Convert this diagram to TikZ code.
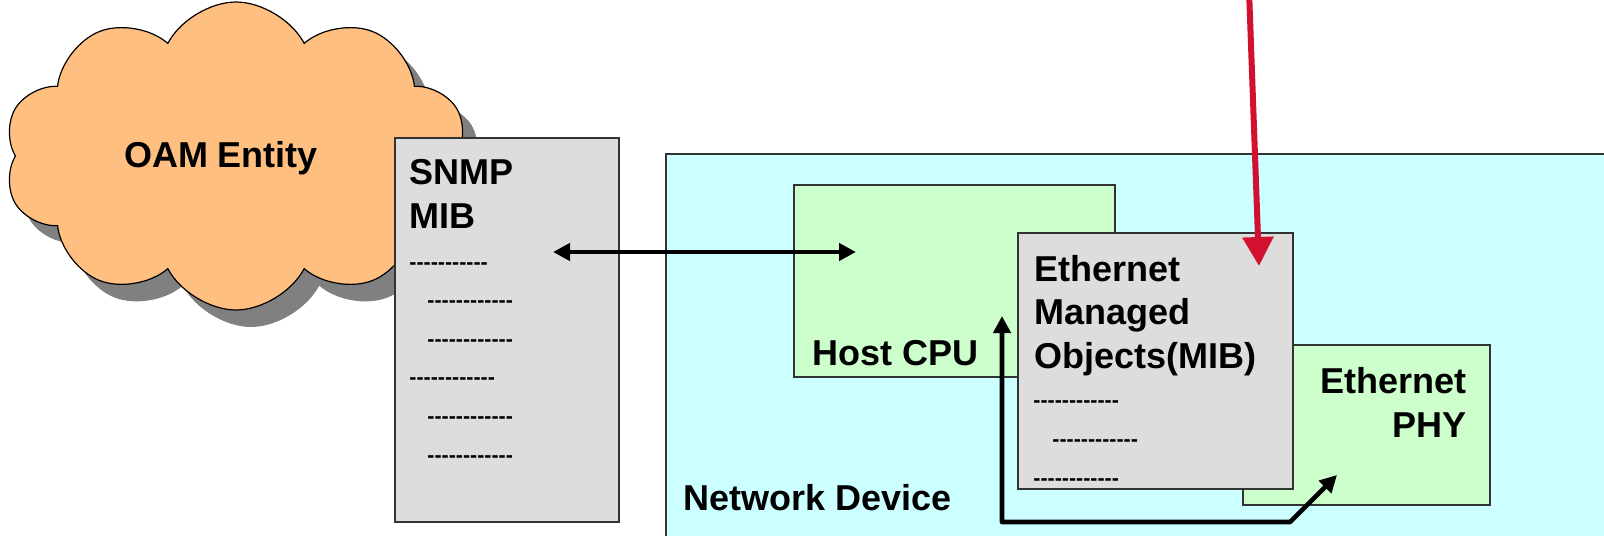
\documentclass[tikz,border=0pt]{standalone}
\usepackage{fontspec}
\setmainfont{Liberation Sans}[Ligatures=TeXOff]
\usetikzlibrary{shapes.symbols,shadows,arrows.meta}
\definecolor{netcyan}{RGB}{204,255,255}
\definecolor{cpugreen}{RGB}{204,255,204}
\definecolor{mibgray}{RGB}{221,221,221}
\definecolor{oamorange}{RGB}{255,191,128}
\definecolor{oamshadow}{RGB}{128,128,128}
\definecolor{linkred}{RGB}{210,16,48}

\begin{document}
\begin{tikzpicture}
  [x=0.5pt,y=-0.5pt,>={Triangle[length=8.5pt,width=8.5pt]},
   box/.style={rectangle,draw=black!80,line width=0.75pt,inner sep=0pt},
   lbl/.style={inner sep=0pt,align=left,font=\fontsize{18}{21.75}\selectfont\bfseries},
   rows/.style={inner sep=0pt,align=left,font=\fontsize{10.7}{19.3}\selectfont\bfseries},
   link/.style={line width=2.3pt,line join=round}]
  \useasboundingbox (0,0) rectangle (1604,535);
  \clip (0,0) rectangle (1604,535);

  % multi-line labels sit on the baseline of their last line
  \node (oam) at (236,156) [cloud,cloud puffs=10,cloud puff arc=125,cloud ignores aspect,
    minimum width=232pt,minimum height=154pt,fill=oamorange,draw=black,line width=0.6pt,
    drop shadow={shadow xshift=7.5pt,shadow yshift=-8.5pt,fill=oamshadow,opacity=1}] {};
  \node (oamlbl) at (221,167) [lbl,anchor=base] {OAM Entity};

  \node (snmp) at (507,330) [box,fill=mibgray,minimum width=112pt,minimum height=192pt] {};
  \node (snmplbl) at (409,228) [lbl,anchor=base west] {SNMP\\MIB};
  \node (snmprows) at (409,462) [rows,anchor=base west]
    {-----------\\\hspace*{9pt}------------\\\hspace*{9pt}------------\\
     ------------\\\hspace*{9pt}------------\\\hspace*{9pt}------------};

  \node (netdev) at (1143,357) [box,fill=netcyan,minimum width=477pt,minimum height=203pt] {};
  \node (netlbl) at (683,510) [lbl,anchor=base west] {Network Device};
  \node (cpu) at (954.5,281) [box,fill=cpugreen,minimum width=160.5pt,minimum height=96pt] {};
  \node (cpulbl) at (812,365) [lbl,anchor=base west] {Host CPU};
  \node (phy) at (1366.5,425) [box,fill=cpugreen,minimum width=123.5pt,minimum height=80pt] {};
  \node (phylbl) at (1467,437) [lbl,anchor=base east,align=right] {Ethernet\\PHY};
  \node (emo) at (1155.5,361) [box,fill=mibgray,minimum width=137.5pt,minimum height=128pt] {};
  \node (emolbl) at (1034,368) [lbl,anchor=base west] {Ethernet\\Managed\\Objects(MIB)};
  \node (emorows) at (1033,485) [rows,anchor=base west]
    {------------\\\hspace*{9.5pt}------------\\------------};

  \coordinate (mibport) at (553,252);
  \coordinate (cpuport) at (856,252);
  \coordinate (cpuin) at (1002,316);
  \coordinate (bend) at (1290,522);
  \coordinate (phyin) at (1337,475);
  \coordinate (feed) at (1249,-10);
  \coordinate (emoin) at (1259,266);

  \draw[link,<->] (mibport) -- (cpuport);
  \draw[link,<->] (cpuin) |- (bend) -- (phyin);
  \draw[line width=3pt,linkred,-{Triangle[length=14.5pt,width=15pt]}] (feed) -- (emoin);
\end{tikzpicture}
\end{document}
